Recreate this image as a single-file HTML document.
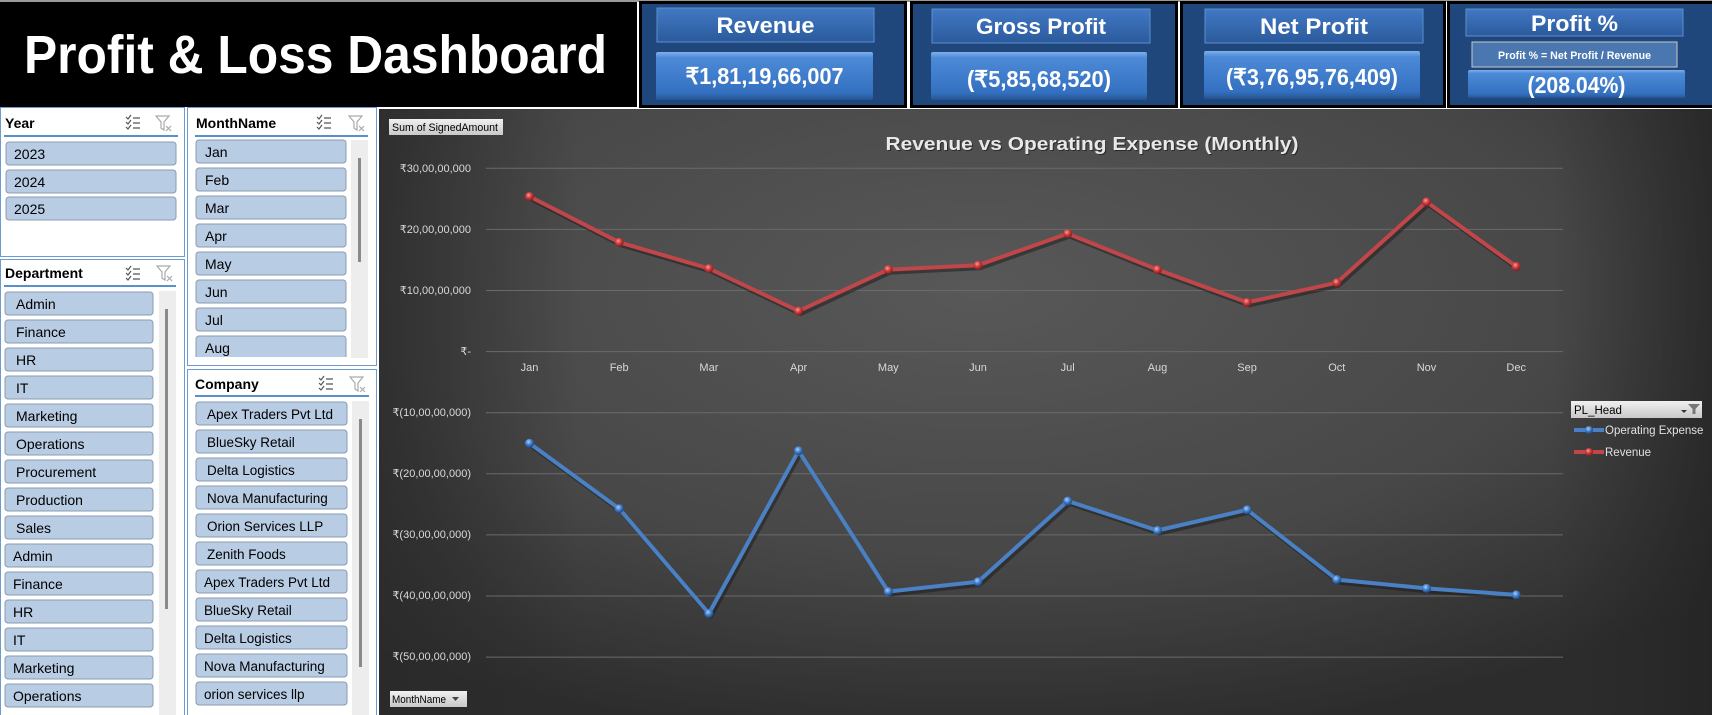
<!DOCTYPE html>
<html><head><meta charset="utf-8"><style>
html,body{margin:0;padding:0;background:#fff;}
svg{display:block;font-family:"Liberation Sans",sans-serif;}
</style></head><body>
<svg width="1712" height="715" viewBox="0 0 1712 715" xmlns="http://www.w3.org/2000/svg">
<defs>
<linearGradient id="tbox" x1="0" y1="0" x2="0" y2="1"><stop offset="0" stop-color="#4179c4"/><stop offset="1" stop-color="#2b5a9c"/></linearGradient>
<linearGradient id="vbox" x1="0" y1="0" x2="0" y2="1"><stop offset="0" stop-color="#7fb0ec"/><stop offset="0.12" stop-color="#4c8ad8"/><stop offset="0.85" stop-color="#3470c0"/><stop offset="1" stop-color="#24548f"/></linearGradient>
<radialGradient id="cbg" cx="0.45" cy="0.3" r="0.75"><stop offset="0" stop-color="#585858"/><stop offset="0.6" stop-color="#474747"/><stop offset="1" stop-color="#2c2c2c"/></radialGradient>
<linearGradient id="cleft" x1="0" y1="0" x2="1" y2="0"><stop offset="0" stop-color="#2a2a2a" stop-opacity="0.8"/><stop offset="0.15" stop-color="#2a2a2a" stop-opacity="0"/><stop offset="0.88" stop-color="#2a2a2a" stop-opacity="0"/><stop offset="1" stop-color="#222" stop-opacity="0.7"/></linearGradient>
<radialGradient id="mr" cx="0.4" cy="0.35" r="0.6"><stop offset="0" stop-color="#ff9a9a"/><stop offset="0.5" stop-color="#d04040"/><stop offset="1" stop-color="#8a2020"/></radialGradient>
<radialGradient id="mb" cx="0.4" cy="0.35" r="0.6"><stop offset="0" stop-color="#a8d0ff"/><stop offset="0.5" stop-color="#4a86d0"/><stop offset="1" stop-color="#1f4d8a"/></radialGradient>
<linearGradient id="btn" x1="0" y1="0" x2="0" y2="1"><stop offset="0" stop-color="#f0f0f0"/><stop offset="1" stop-color="#c8c8c8"/></linearGradient>
<g id="ms" fill="none" stroke="#555" stroke-width="1.2">
<path d="M0 3 l2 2 l3 -4 M0 8 l2 2 l3 -4 M0 13 l2 2 l3 -4"/><path d="M7 4 h7 M7 9 h7 M7 14 h7"/>
</g>
<g id="fx" fill="none" stroke="#aaa" stroke-width="1.2">
<path d="M0 1 h13 l-5 6 v8 l-3 -2 v-6 z"/><path d="M10 11 l5 5 M15 11 l-5 5"/>
</g>
</defs>

<!-- title block -->
<rect x="0" y="0" width="1712" height="2" fill="#9a9a9a"/>
<rect x="0" y="2" width="637" height="105" fill="#000"/>
<text x="24" y="73" font-size="54" font-weight="bold" fill="#fff" textLength="583" lengthAdjust="spacingAndGlyphs">Profit &amp; Loss Dashboard</text>

<!-- cards -->
<g>
<rect x="639" y="1" width="268" height="107" fill="#000"/><rect x="642" y="4" width="262" height="101" fill="#1f477c"/>
<rect x="657" y="8" width="217" height="34" fill="url(#tbox)" stroke="#5a8fd0"/>
<text x="765.5" y="33" font-size="22" font-weight="bold" fill="#fff" text-anchor="middle" textLength="98" lengthAdjust="spacingAndGlyphs">Revenue</text>
<rect x="656" y="52" width="217" height="48" rx="2" fill="url(#vbox)"/>
<text x="764.5" y="84" font-size="23" font-weight="bold" fill="#fff" text-anchor="middle" textLength="158" lengthAdjust="spacingAndGlyphs">₹1,81,19,66,007</text>

<rect x="910" y="1" width="268" height="107" fill="#000"/><rect x="913" y="4" width="262" height="101" fill="#1f477c"/>
<rect x="932" y="9" width="218" height="34" fill="url(#tbox)" stroke="#5a8fd0"/>
<text x="1041" y="34" font-size="22" font-weight="bold" fill="#fff" text-anchor="middle" textLength="130" lengthAdjust="spacingAndGlyphs">Gross Profit</text>
<rect x="931" y="52" width="216" height="48" rx="2" fill="url(#vbox)"/>
<text x="1039" y="87" font-size="23" font-weight="bold" fill="#fff" text-anchor="middle" textLength="144" lengthAdjust="spacingAndGlyphs">(₹5,85,68,520)</text>

<rect x="1180" y="1" width="266" height="107" fill="#000"/><rect x="1183" y="4" width="260" height="101" fill="#1f477c"/>
<rect x="1205" y="9" width="218" height="34" fill="url(#tbox)" stroke="#5a8fd0"/>
<text x="1314" y="34" font-size="22" font-weight="bold" fill="#fff" text-anchor="middle" textLength="108" lengthAdjust="spacingAndGlyphs">Net Profit</text>
<rect x="1204" y="51" width="216" height="48" rx="2" fill="url(#vbox)"/>
<text x="1312" y="85" font-size="23" font-weight="bold" fill="#fff" text-anchor="middle" textLength="172" lengthAdjust="spacingAndGlyphs">(₹3,76,95,76,409)</text>

<rect x="1447" y="1" width="265" height="107" fill="#000"/><rect x="1450" y="4" width="262" height="101" fill="#1f477c"/>
<rect x="1466" y="9" width="217" height="27" fill="url(#tbox)" stroke="#5a8fd0"/>
<text x="1574.5" y="31" font-size="22" font-weight="bold" fill="#fff" text-anchor="middle" textLength="87" lengthAdjust="spacingAndGlyphs">Profit %</text>
<rect x="1472" y="42" width="205" height="25" fill="#4a77b0" stroke="#c8c8c8"/>
<text x="1574.5" y="59" font-size="11" font-weight="bold" fill="#fff" text-anchor="middle" textLength="153" lengthAdjust="spacingAndGlyphs">Profit % = Net Profit / Revenue</text>
<rect x="1468" y="70" width="217" height="28" rx="2" fill="url(#vbox)"/>
<text x="1576.5" y="93" font-size="23" font-weight="bold" fill="#fff" text-anchor="middle" textLength="98" lengthAdjust="spacingAndGlyphs">(208.04%)</text>
</g>

<!-- slicers -->
<g font-size="14" fill="#000">
<!-- Year -->
<rect x="0.5" y="107.5" width="184" height="149" fill="#fff" stroke="#6b9bd1"/>
<text x="5" y="128" font-weight="bold" font-size="14">Year</text>
<use href="#ms" x="126" y="114"/><use href="#fx" x="156" y="115"/>
<rect x="4" y="135" width="174" height="2" fill="#5b8fc9"/>
<g fill="#b8cce4" stroke="#8a9bb0"><rect x="6" y="142" width="170" height="23" rx="3"/><rect x="6" y="170" width="170" height="23" rx="3"/><rect x="6" y="197" width="170" height="23" rx="3"/></g>
<text x="14" y="159">2023</text><text x="14" y="187">2024</text><text x="14" y="214">2025</text>

<!-- Department -->
<rect x="0.5" y="259.5" width="184" height="460" fill="#fff" stroke="#6b9bd1"/>
<text x="5" y="278" font-weight="bold">Department</text>
<use href="#ms" x="126" y="265"/><use href="#fx" x="157" y="265"/>
<rect x="4" y="285" width="172" height="2" fill="#5b8fc9"/>
<rect x="159" y="291" width="17" height="430" fill="#ededed"/><rect x="165" y="309" width="3" height="300" fill="#8a8a8a"/>
<g fill="#b8cce4" stroke="#8a9bb0">
<rect x="5" y="292" width="148" height="23" rx="3"/><rect x="5" y="320" width="148" height="23" rx="3"/><rect x="5" y="348" width="148" height="23" rx="3"/><rect x="5" y="376" width="148" height="23" rx="3"/><rect x="5" y="404" width="148" height="23" rx="3"/><rect x="5" y="432" width="148" height="23" rx="3"/><rect x="5" y="460" width="148" height="23" rx="3"/><rect x="5" y="488" width="148" height="23" rx="3"/><rect x="5" y="516" width="148" height="23" rx="3"/><rect x="5" y="544" width="148" height="23" rx="3"/><rect x="5" y="572" width="148" height="23" rx="3"/><rect x="5" y="600" width="148" height="23" rx="3"/><rect x="5" y="628" width="148" height="23" rx="3"/><rect x="5" y="656" width="148" height="23" rx="3"/><rect x="5" y="684" width="148" height="23" rx="3"/></g>
<text x="16" y="309">Admin</text><text x="16" y="337">Finance</text><text x="16" y="365">HR</text><text x="16" y="393">IT</text><text x="16" y="421">Marketing</text><text x="16" y="449">Operations</text><text x="16" y="477">Procurement</text><text x="16" y="505">Production</text><text x="16" y="533">Sales</text><text x="13" y="561">Admin</text><text x="13" y="589">Finance</text><text x="13" y="617">HR</text><text x="13" y="645">IT</text><text x="13" y="673">Marketing</text><text x="13" y="701">Operations</text>

<!-- MonthName -->
<rect x="187.5" y="107.5" width="189" height="258" fill="#fff" stroke="#6b9bd1"/>
<text x="196" y="128" font-weight="bold">MonthName</text>
<use href="#ms" x="317" y="114"/><use href="#fx" x="349" y="115"/>
<rect x="195" y="135" width="173" height="2" fill="#5b8fc9"/>
<rect x="351" y="140" width="17" height="218" fill="#ededed"/><rect x="358" y="158" width="3" height="104" fill="#8a8a8a"/>
<svg x="0" y="0" width="712" height="357" overflow="hidden">
<g fill="#b8cce4" stroke="#8a9bb0"><rect x="196" y="140" width="150" height="23" rx="3"/><rect x="196" y="168" width="150" height="23" rx="3"/><rect x="196" y="196" width="150" height="23" rx="3"/><rect x="196" y="224" width="150" height="23" rx="3"/><rect x="196" y="252" width="150" height="23" rx="3"/><rect x="196" y="280" width="150" height="23" rx="3"/><rect x="196" y="308" width="150" height="23" rx="3"/><rect x="196" y="336" width="150" height="23" rx="3"/></g>
<text x="205" y="157">Jan</text><text x="205" y="185">Feb</text><text x="205" y="213">Mar</text><text x="205" y="241">Apr</text><text x="205" y="269">May</text><text x="205" y="297">Jun</text><text x="205" y="325">Jul</text><text x="205" y="353">Aug</text>
</svg>

<!-- Company -->
<rect x="187.5" y="369.5" width="189" height="350" fill="#fff" stroke="#6b9bd1"/>
<text x="195" y="389" font-weight="bold">Company</text>
<use href="#ms" x="319" y="375"/><use href="#fx" x="350" y="376"/>
<rect x="195" y="395" width="174" height="2" fill="#5b8fc9"/>
<rect x="352" y="401" width="17" height="314" fill="#ededed"/><rect x="359" y="419" width="3" height="248" fill="#8a8a8a"/>
<g fill="#b8cce4" stroke="#8a9bb0">
<rect x="196" y="402" width="151" height="23" rx="3"/><rect x="196" y="430" width="151" height="23" rx="3"/><rect x="196" y="458" width="151" height="23" rx="3"/><rect x="196" y="486" width="151" height="23" rx="3"/><rect x="196" y="514" width="151" height="23" rx="3"/><rect x="196" y="542" width="151" height="23" rx="3"/><rect x="196" y="570" width="151" height="23" rx="3"/><rect x="196" y="598" width="151" height="23" rx="3"/><rect x="196" y="626" width="151" height="23" rx="3"/><rect x="196" y="654" width="151" height="23" rx="3"/><rect x="196" y="682" width="151" height="23" rx="3"/></g>
<g font-size="13.5"><text x="207" y="419">Apex Traders Pvt Ltd</text><text x="207" y="447">BlueSky Retail</text><text x="207" y="475">Delta Logistics</text><text x="207" y="503">Nova Manufacturing</text><text x="207" y="531">Orion Services LLP</text><text x="207" y="559">Zenith Foods</text><text x="204" y="587">Apex Traders Pvt Ltd</text><text x="204" y="615">BlueSky Retail</text><text x="204" y="643">Delta Logistics</text><text x="204" y="671">Nova Manufacturing</text><text x="204" y="699">orion services llp</text></g>
</g>

<!-- chart -->
<rect x="379" y="109" width="1333" height="606" fill="url(#cbg)"/>
<rect x="379" y="109" width="1333" height="606" fill="url(#cleft)"/>
<rect x="389" y="119" width="114" height="16" fill="url(#btn)"/>
<text x="392" y="131" font-size="11" fill="#000" textLength="106" lengthAdjust="spacingAndGlyphs">Sum of SignedAmount</text>
<text x="1092" y="150" font-size="18" font-weight="bold" fill="#111" opacity="0.6" text-anchor="middle" textLength="413" lengthAdjust="spacingAndGlyphs" transform="translate(1,1)">Revenue vs Operating Expense (Monthly)</text>
<text x="1092" y="150" font-size="18" font-weight="bold" fill="#e8e8e8" text-anchor="middle" textLength="413" lengthAdjust="spacingAndGlyphs">Revenue vs Operating Expense (Monthly)</text>

<g stroke="#6a6a6a" stroke-width="1">
<line x1="486" y1="168.3" x2="1563" y2="168.3"/><line x1="486" y1="229.4" x2="1563" y2="229.4"/><line x1="486" y1="290.5" x2="1563" y2="290.5"/><line x1="486" y1="351.6" x2="1563" y2="351.6"/><line x1="486" y1="412.7" x2="1563" y2="412.7"/><line x1="486" y1="473.8" x2="1563" y2="473.8"/><line x1="486" y1="534.9" x2="1563" y2="534.9"/><line x1="486" y1="596" x2="1563" y2="596"/><line x1="486" y1="657.1" x2="1563" y2="657.1"/>
</g>
<g font-size="11" fill="#d8d8d8" text-anchor="end">
<text x="471" y="172">₹30,00,00,000</text><text x="471" y="233">₹20,00,00,000</text><text x="471" y="294">₹10,00,00,000</text><text x="471" y="355">₹-</text><text x="471" y="416">₹(10,00,00,000)</text><text x="471" y="477">₹(20,00,00,000)</text><text x="471" y="538">₹(30,00,00,000)</text><text x="471" y="599">₹(40,00,00,000)</text><text x="471" y="660">₹(50,00,00,000)</text>
</g>
<g font-size="11" fill="#d8d8d8" text-anchor="middle">
<text x="529.5" y="371">Jan</text><text x="619.2" y="371">Feb</text><text x="708.9" y="371">Mar</text><text x="798.6" y="371">Apr</text><text x="888.3" y="371">May</text><text x="978" y="371">Jun</text><text x="1067.7" y="371">Jul</text><text x="1157.4" y="371">Aug</text><text x="1247.1" y="371">Sep</text><text x="1336.8" y="371">Oct</text><text x="1426.5" y="371">Nov</text><text x="1516.2" y="371">Dec</text>
</g>

<polyline fill="none" stroke="#1a1a1a" stroke-opacity="0.5" stroke-width="4" stroke-linejoin="round" transform="translate(2,3)" points="529.5,196.5 619.2,242.3 708.9,268.5 798.6,311.1 888.3,269.6 978,265.3 1067.7,233.6 1157.4,269.6 1247.1,302.4 1336.8,282.7 1426.5,201.9 1516.2,266.4"/>
<polyline fill="none" stroke="#c0464a" stroke-width="4" stroke-linejoin="round" points="529.5,196.5 619.2,242.3 708.9,268.5 798.6,311.1 888.3,269.6 978,265.3 1067.7,233.6 1157.4,269.6 1247.1,302.4 1336.8,282.7 1426.5,201.9 1516.2,266.4"/>
<g fill="url(#mr)">
<circle cx="529.5" cy="196.5" r="4.5"/><circle cx="619.2" cy="242.3" r="4.5"/><circle cx="708.9" cy="268.5" r="4.5"/><circle cx="798.6" cy="311.1" r="4.5"/><circle cx="888.3" cy="269.6" r="4.5"/><circle cx="978" cy="265.3" r="4.5"/><circle cx="1067.7" cy="233.6" r="4.5"/><circle cx="1157.4" cy="269.6" r="4.5"/><circle cx="1247.1" cy="302.4" r="4.5"/><circle cx="1336.8" cy="282.7" r="4.5"/><circle cx="1426.5" cy="201.9" r="4.5"/><circle cx="1516.2" cy="266.4" r="4.5"/></g>

<polyline fill="none" stroke="#1a1a1a" stroke-opacity="0.5" stroke-width="4" stroke-linejoin="round" transform="translate(2,3)" points="529.5,443.2 619.2,508.7 708.9,613.5 798.6,450.8 888.3,591.6 978,581.8 1067.7,501 1157.4,530.5 1247.1,509.8 1336.8,579.6 1426.5,588.4 1516.2,594.9"/>
<polyline fill="none" stroke="#4a80c4" stroke-width="4" stroke-linejoin="round" points="529.5,443.2 619.2,508.7 708.9,613.5 798.6,450.8 888.3,591.6 978,581.8 1067.7,501 1157.4,530.5 1247.1,509.8 1336.8,579.6 1426.5,588.4 1516.2,594.9"/>
<g fill="url(#mb)">
<circle cx="529.5" cy="443.2" r="4.5"/><circle cx="619.2" cy="508.7" r="4.5"/><circle cx="708.9" cy="613.5" r="4.5"/><circle cx="798.6" cy="450.8" r="4.5"/><circle cx="888.3" cy="591.6" r="4.5"/><circle cx="978" cy="581.8" r="4.5"/><circle cx="1067.7" cy="501" r="4.5"/><circle cx="1157.4" cy="530.5" r="4.5"/><circle cx="1247.1" cy="509.8" r="4.5"/><circle cx="1336.8" cy="579.6" r="4.5"/><circle cx="1426.5" cy="588.4" r="4.5"/><circle cx="1516.2" cy="594.9" r="4.5"/></g>

<!-- legend -->
<rect x="1571" y="401" width="131" height="17" fill="url(#btn)"/>
<text x="1574" y="414" font-size="11.5" fill="#000">PL_Head</text>
<path d="M1681 410 l6 0 l-3 3 z" fill="#333"/><path d="M1688 404 l12 0 l-4.5 5 l0 5 l-3 0 l0 -5 z" fill="#777"/>
<line x1="1574" y1="430" x2="1604" y2="430" stroke="#4a80c4" stroke-width="4"/><circle cx="1589" cy="430" r="4" fill="url(#mb)"/>
<text x="1605" y="434" font-size="11.5" fill="#e0e0e0">Operating Expense</text>
<line x1="1574" y1="452" x2="1604" y2="452" stroke="#c0464a" stroke-width="4"/><circle cx="1589" cy="452" r="4" fill="url(#mr)"/>
<text x="1605" y="456" font-size="11.5" fill="#e0e0e0">Revenue</text>

<rect x="390" y="691" width="77" height="16" fill="url(#btn)"/>
<text x="392" y="703" font-size="11" fill="#000" textLength="54" lengthAdjust="spacingAndGlyphs">MonthName</text>
<path d="M452 697 l7 0 l-3.5 4 z" fill="#444"/>
</svg>
</body></html>
